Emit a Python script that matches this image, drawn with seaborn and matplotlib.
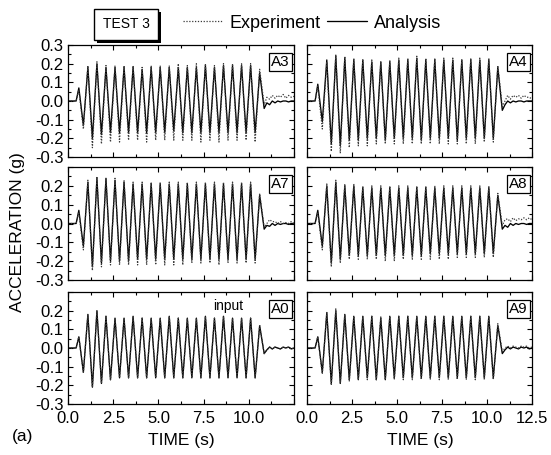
import matplotlib
matplotlib.use("Agg")
import matplotlib.pyplot as plt
import matplotlib.patheffects as pe
from matplotlib.lines import Line2D
from matplotlib.ticker import MultipleLocator, FixedLocator
import pandas as pd
import seaborn as sns

# ---- time base of the record (s) -------------------------------------------
LEAD_TIMES = [0.0, 0.45]
PEAK_TIMES = [0.6, 1.1, 1.6, 2.1, 2.6, 3.1, 3.6, 4.1, 4.6, 5.1, 5.6,
              6.1, 6.6, 7.1, 7.6, 8.1, 8.6, 9.1, 9.6, 10.1, 10.6]
TROUGH_TIMES = [0.85, 1.35, 1.85, 2.35, 2.85, 3.35, 3.85, 4.35, 4.85, 5.35, 5.85,
                6.35, 6.85, 7.35, 7.85, 8.35, 8.85, 9.35, 9.85, 10.35, 10.85]
TAIL_TIMES = [11.0, 11.15, 11.3, 11.45, 11.6, 11.75, 11.9, 12.05, 12.2, 12.35, 12.5]

# ---- A3 --------------------------------------------------------------------
A3_ANA_PEAKS = [0.07, 0.18, 0.20, 0.18, 0.18, 0.18, 0.18, 0.17, 0.18, 0.18, 0.18,
                0.18, 0.18, 0.18, 0.19, 0.18, 0.19, 0.19, 0.19, 0.19, 0.15]
A3_ANA_TROUGHS = [-0.13, -0.20, -0.18, -0.17, -0.17, -0.17, -0.17, -0.17, -0.17, -0.17, -0.16,
                  -0.17, -0.17, -0.17, -0.17, -0.17, -0.17, -0.17, -0.17, -0.17, -0.04]
A3_ANA_TAIL = [-0.01, -0.02, 0.0, -0.01, 0.0, -0.005, 0.0, 0.0, -0.005, 0.0, 0.0]
A3_EXP_PEAKS = [0.06, 0.19, 0.21, 0.19, 0.19, 0.19, 0.19, 0.18, 0.19, 0.19, 0.19,
                0.20, 0.19, 0.20, 0.20, 0.19, 0.20, 0.20, 0.20, 0.20, 0.17]
A3_EXP_TROUGHS = [-0.15, -0.25, -0.23, -0.22, -0.22, -0.21, -0.21, -0.22, -0.21, -0.21, -0.21,
                  -0.21, -0.21, -0.22, -0.21, -0.22, -0.21, -0.21, -0.21, -0.22, -0.02]
A3_EXP_TAIL = [0.02, 0.01, 0.03, 0.015, 0.03, 0.02, 0.035, 0.015, 0.03, 0.02, 0.025]

# ---- A4 --------------------------------------------------------------------
A4_ANA_PEAKS = [0.09, 0.22, 0.24, 0.23, 0.22, 0.22, 0.21, 0.21, 0.21, 0.22, 0.22,
                0.23, 0.22, 0.22, 0.22, 0.22, 0.22, 0.22, 0.22, 0.22, 0.18]
A4_ANA_TROUGHS = [-0.11, -0.23, -0.24, -0.21, -0.21, -0.20, -0.20, -0.21, -0.20, -0.20, -0.20,
                  -0.21, -0.20, -0.20, -0.20, -0.21, -0.20, -0.20, -0.20, -0.20, -0.05]
A4_ANA_TAIL = [-0.02, 0.0, -0.01, 0.0, -0.005, 0.0, 0.0, -0.005, 0.0, 0.0, 0.0]
A4_EXP_PEAKS = [0.08, 0.21, 0.25, 0.24, 0.23, 0.22, 0.22, 0.21, 0.22, 0.23, 0.23,
                0.24, 0.23, 0.23, 0.23, 0.23, 0.22, 0.23, 0.23, 0.23, 0.19]
A4_EXP_TROUGHS = [-0.15, -0.27, -0.28, -0.25, -0.24, -0.24, -0.23, -0.23, -0.23, -0.23, -0.23,
                  -0.23, -0.23, -0.23, -0.23, -0.23, -0.23, -0.23, -0.22, -0.22, -0.03]
A4_EXP_TAIL = [0.0, 0.03, 0.01, 0.03, 0.02, 0.03, 0.015, 0.03, 0.02, 0.02, 0.01]

# ---- A7 --------------------------------------------------------------------
A7_ANA_PEAKS = [0.07, 0.22, 0.24, 0.24, 0.23, 0.22, 0.21, 0.21, 0.21, 0.21, 0.21,
                0.21, 0.21, 0.21, 0.21, 0.21, 0.21, 0.21, 0.21, 0.21, 0.15]
A7_ANA_TROUGHS = [-0.12, -0.23, -0.21, -0.20, -0.20, -0.20, -0.19, -0.19, -0.19, -0.19, -0.19,
                  -0.19, -0.19, -0.19, -0.19, -0.19, -0.19, -0.19, -0.19, -0.19, -0.03]
A7_ANA_TAIL = [-0.01, -0.015, 0.0, -0.01, 0.0, -0.005, 0.0, 0.0, -0.005, 0.0, 0.0]
A7_EXP_PEAKS = [0.06, 0.23, 0.25, 0.24, 0.24, 0.23, 0.22, 0.22, 0.22, 0.22, 0.22,
                0.22, 0.22, 0.22, 0.22, 0.22, 0.22, 0.22, 0.22, 0.22, 0.16]
A7_EXP_TROUGHS = [-0.14, -0.25, -0.23, -0.22, -0.22, -0.22, -0.22, -0.22, -0.22, -0.22, -0.22,
                  -0.22, -0.21, -0.21, -0.21, -0.22, -0.21, -0.21, -0.21, -0.21, -0.02]
A7_EXP_TAIL = [0.0, 0.02, 0.01, 0.01, 0.0, 0.01, 0.0, 0.005, 0.0, 0.01, 0.0]

# ---- A8 --------------------------------------------------------------------
A8_ANA_PEAKS = [0.07, 0.20, 0.22, 0.20, 0.20, 0.19, 0.19, 0.19, 0.19, 0.19, 0.19,
                0.19, 0.19, 0.19, 0.19, 0.19, 0.19, 0.19, 0.19, 0.19, 0.15]
A8_ANA_TROUGHS = [-0.12, -0.21, -0.19, -0.17, -0.17, -0.17, -0.17, -0.17, -0.17, -0.17, -0.17,
                  -0.17, -0.16, -0.16, -0.16, -0.16, -0.16, -0.16, -0.16, -0.16, -0.03]
A8_ANA_TAIL = [-0.01, -0.02, 0.0, -0.01, 0.0, -0.005, 0.0, 0.0, -0.005, 0.0, 0.0]
A8_EXP_PEAKS = [0.06, 0.21, 0.23, 0.21, 0.21, 0.20, 0.20, 0.20, 0.20, 0.20, 0.20,
                0.20, 0.20, 0.20, 0.20, 0.20, 0.20, 0.20, 0.20, 0.20, 0.16]
A8_EXP_TROUGHS = [-0.14, -0.23, -0.21, -0.19, -0.19, -0.19, -0.19, -0.20, -0.20, -0.19, -0.19,
                  -0.19, -0.19, -0.19, -0.19, -0.18, -0.18, -0.18, -0.18, -0.18, -0.01]
A8_EXP_TAIL = [0.02, 0.025, 0.01, 0.03, 0.015, 0.025, 0.02, 0.03, 0.02, 0.03, 0.02]

# ---- A0 (table input) ------------------------------------------------------
A0_ANA_PEAKS = [0.06, 0.18, 0.20, 0.17, 0.16, 0.16, 0.17, 0.16, 0.16, 0.16, 0.17,
                0.16, 0.16, 0.16, 0.17, 0.16, 0.17, 0.16, 0.16, 0.16, 0.12]
A0_ANA_TROUGHS = [-0.13, -0.21, -0.19, -0.17, -0.16, -0.16, -0.16, -0.16, -0.16, -0.16, -0.16,
                  -0.16, -0.16, -0.16, -0.16, -0.16, -0.16, -0.16, -0.16, -0.16, -0.03]
A0_ANA_TAIL = [-0.01, 0.005, -0.005, 0.005, 0.0, -0.005, 0.005, 0.0, 0.005, -0.005, 0.0]
A0_EXP_PEAKS = A0_ANA_PEAKS
A0_EXP_TROUGHS = A0_ANA_TROUGHS
A0_EXP_TAIL = A0_ANA_TAIL

# ---- A9 --------------------------------------------------------------------
A9_ANA_PEAKS = [0.06, 0.19, 0.20, 0.18, 0.17, 0.17, 0.17, 0.16, 0.17, 0.17, 0.17,
                0.17, 0.17, 0.17, 0.17, 0.17, 0.17, 0.17, 0.17, 0.17, 0.12]
A9_ANA_TROUGHS = [-0.13, -0.19, -0.19, -0.17, -0.17, -0.16, -0.17, -0.17, -0.16, -0.16, -0.16,
                  -0.16, -0.16, -0.16, -0.16, -0.16, -0.16, -0.16, -0.16, -0.16, -0.03]
A9_ANA_TAIL = [-0.01, 0.005, -0.005, 0.005, 0.0, -0.005, 0.005, 0.0, 0.005, -0.005, 0.0]
A9_EXP_PEAKS = [0.06, 0.19, 0.21, 0.18, 0.17, 0.17, 0.17, 0.17, 0.17, 0.17, 0.17,
                0.17, 0.17, 0.17, 0.17, 0.17, 0.17, 0.17, 0.17, 0.17, 0.13]
A9_EXP_TROUGHS = [-0.14, -0.20, -0.19, -0.18, -0.17, -0.17, -0.17, -0.17, -0.17, -0.17, -0.17,
                  -0.17, -0.17, -0.17, -0.17, -0.17, -0.17, -0.17, -0.17, -0.17, -0.02]
A9_EXP_TAIL = [0.0, 0.01, 0.0, 0.01, 0.005, 0.0, 0.01, 0.005, 0.01, 0.0, 0.005]

# ---- axis ticks ------------------------------------------------------------
X_TICKS = [0.0, 2.5, 5.0, 7.5, 10.0, 12.5]
X_TICK_LABELS = ["0.0", "2.5", "5.0", "7.5", "10.0", "12.5"]
Y_TICKS = [-0.3, -0.2, -0.1, 0.0, 0.1, 0.2, 0.3]
Y_TICK_LABELS = ["-0.3", "-0.2", "-0.1", "0.0", "0.1", "0.2", "0.3"]

SERIES_NAMES = ["Experiment", "Analysis"]


def record(peaks, troughs, tail):
    """Assemble one acceleration record from its extrema, in time order."""
    t = list(LEAD_TIMES)
    v = [0.0, 0.0]
    for tp, p, tt, tr in zip(PEAK_TIMES, peaks, TROUGH_TIMES, troughs):
        t += [tp, tt]
        v += [p, tr]
    t += TAIL_TIMES
    v += list(tail)
    return pd.DataFrame({"time": t, "acceleration": v})


PANELS = [
    ("A3", 0, 0, (A3_EXP_PEAKS, A3_EXP_TROUGHS, A3_EXP_TAIL), (A3_ANA_PEAKS, A3_ANA_TROUGHS, A3_ANA_TAIL)),
    ("A4", 0, 1, (A4_EXP_PEAKS, A4_EXP_TROUGHS, A4_EXP_TAIL), (A4_ANA_PEAKS, A4_ANA_TROUGHS, A4_ANA_TAIL)),
    ("A7", 1, 0, (A7_EXP_PEAKS, A7_EXP_TROUGHS, A7_EXP_TAIL), (A7_ANA_PEAKS, A7_ANA_TROUGHS, A7_ANA_TAIL)),
    ("A8", 1, 1, (A8_EXP_PEAKS, A8_EXP_TROUGHS, A8_EXP_TAIL), (A8_ANA_PEAKS, A8_ANA_TROUGHS, A8_ANA_TAIL)),
    ("A0", 2, 0, (A0_EXP_PEAKS, A0_EXP_TROUGHS, A0_EXP_TAIL), (A0_ANA_PEAKS, A0_ANA_TROUGHS, A0_ANA_TAIL)),
    ("A9", 2, 1, (A9_EXP_PEAKS, A9_EXP_TROUGHS, A9_EXP_TAIL), (A9_ANA_PEAKS, A9_ANA_TROUGHS, A9_ANA_TAIL)),
]

sns.set_theme(style="ticks")
plt.rcParams.update({
    "font.family": ["Liberation Sans", "DejaVu Sans"],
    "axes.unicode_minus": False,
    "axes.edgecolor": "black",
    "axes.linewidth": 0.9,
    "xtick.color": "black",
    "ytick.color": "black",
    "text.color": "black",
})

W, H = 551, 455
fig = plt.figure(figsize=(W / 100, H / 100), dpi=100)

col_x = [(68, 226), (307, 225)]
row_y = [(45, 157), (167, 280), (292, 404)]

EXP_STYLE = dict(color="#3a3a3a", linewidth=0.9, linestyle=(0, (1.0, 1.3)))
ANA_STYLE = dict(color="black", linewidth=0.95, linestyle="-")

for name, r, c, exp, ana in PANELS:
    x0, w = col_x[c]
    top, bot = row_y[r]
    ax = fig.add_axes([x0 / W, 1 - bot / H, w / W, (bot - top) / H])

    sns.lineplot(data=record(*ana), x="time", y="acceleration", ax=ax,
                 estimator=None, sort=False, legend=False, **ANA_STYLE)
    sns.lineplot(data=record(*exp), x="time", y="acceleration", ax=ax,
                 estimator=None, sort=False, legend=False, **EXP_STYLE)

    ax.set_xlim(0, 12.5)
    ax.set_ylim(-0.3, 0.3)
    ax.xaxis.set_major_locator(FixedLocator(X_TICKS))
    ax.yaxis.set_major_locator(FixedLocator(Y_TICKS))
    ax.xaxis.set_minor_locator(MultipleLocator(1.25))
    ax.yaxis.set_minor_locator(MultipleLocator(0.05))
    ax.tick_params(which="both", direction="in", top=True, right=True,
                   width=0.8, labelsize=12, pad=3)
    ax.tick_params(axis="x", pad=5)
    ax.tick_params(which="major", length=3.5)
    ax.tick_params(which="minor", length=2)
    ax.set_xlabel("")
    ax.set_ylabel("")

    if r == 2:
        xl = list(X_TICK_LABELS)
        if c == 0:
            xl[-1] = ""
        ax.set_xticklabels(xl)
    else:
        ax.set_xticklabels([])
    if c == 0:
        yl = list(Y_TICK_LABELS)
        if r > 0:
            yl[-1] = ""
        ax.set_yticklabels(yl)
    else:
        ax.set_yticklabels([])

    ax.text(0.94, 0.848, name, transform=ax.transAxes, ha="center", va="center",
            fontsize=11, bbox=dict(boxstyle="square,pad=0.15", fc="white",
                                   ec="black", lw=0.9))
    if name == "A0":
        ax.text(0.708, 0.875, "input", transform=ax.transAxes, ha="center",
                va="center", fontsize=10)

# axis titles
fig.text(18 / W, 1 - 232 / H, "ACCELERATION (g)", rotation=90, ha="center",
         va="center", fontsize=12.5)
fig.text(181 / W, 1 - 441 / H, "TIME (s)", ha="center", va="center", fontsize=12.5)
fig.text(420 / W, 1 - 441 / H, "TIME (s)", ha="center", va="center", fontsize=12.5)
fig.text(23 / W, 1 - 437 / H, "(a)", ha="center", va="center", fontsize=12.5)

# test tag with drop shadow
tag = fig.text(126 / W, 1 - 24.5 / H, "TEST 3", ha="center", va="center", fontsize=10,
               bbox=dict(boxstyle="square,pad=0.6", fc="white", ec="black", lw=1.0))
tag.get_bbox_patch().set_path_effects([
    pe.SimplePatchShadow(offset=(2, -2), shadow_rgbFace="black", alpha=1.0),
    pe.Normal(),
])

handles = [Line2D([], [], **EXP_STYLE), Line2D([], [], **ANA_STYLE)]
fig.legend(handles, SERIES_NAMES, loc="center", bbox_to_anchor=(312 / W, 1 - 23 / H),
           ncol=2, frameon=False, fontsize=13, handlelength=2.2,
           handletextpad=0.4, columnspacing=0.35, borderpad=0.0)

fig.savefig("out.png", dpi=100)
